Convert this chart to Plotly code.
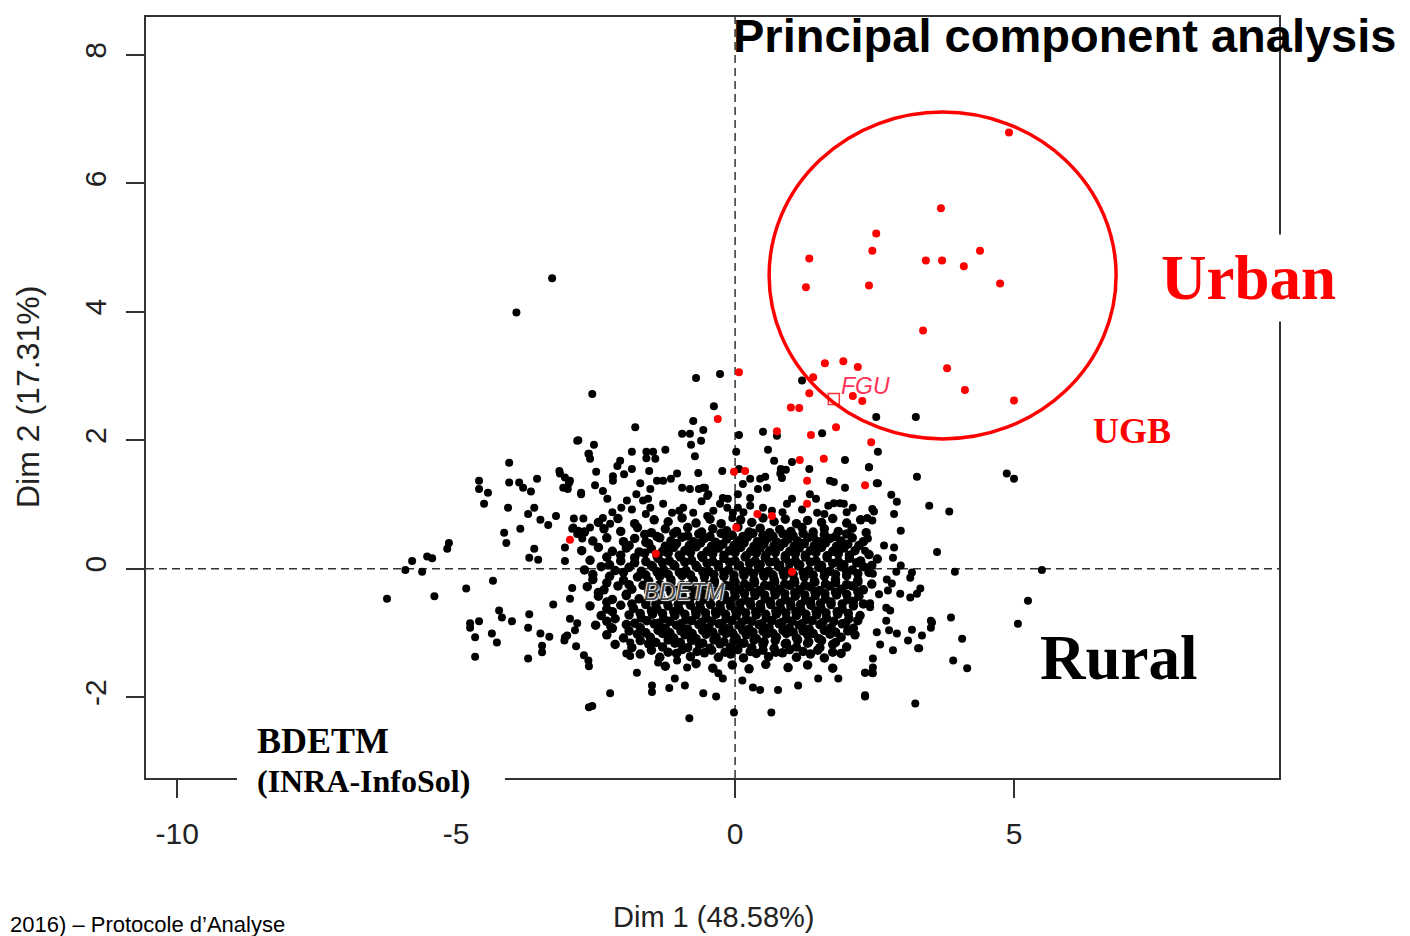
import plotly.graph_objects as go

# Individuals on the first factorial plane (Dim 1, Dim 2).
# Black = rural profiles, red = urban profiles (UGB).
rural_sparse = [
    # upper part / outliers
    (-3.28, 4.52), (-3.92, 3.99), (-0.70, 2.97), (-0.27, 3.03), (1.20, 2.93), (-2.56, 2.72),
    (2.53, 2.36), (3.24, 2.36), (-0.38, 2.53), (-0.75, 2.30), (-0.57, 2.16), (-1.79, 2.20),
    (-2.81, 2.00), (-2.53, 1.93), (-0.95, 2.10), (-0.81, 2.10), (-0.61, 1.99), (-0.79, 1.93),
    (-0.72, 1.75), (0.02, 1.82), (0.07, 2.08), (0.50, 2.13), (0.75, 2.07), (1.56, 2.11),
    (0.59, 1.85), (0.70, 1.68), (1.02, 1.66), (0.82, 1.55), (0.91, 1.54), (1.33, 1.55),
    (1.97, 1.69), (2.40, 1.58), (2.56, 1.82), (3.26, 1.43), (4.87, 1.48), (5.00, 1.40),
    (-1.85, 1.82), (-1.59, 1.82), (-1.47, 1.82), (-1.59, 1.72), (-1.43, 1.71), (-1.25, 1.85),
    (-2.62, 1.79), (-2.60, 1.71), (-4.05, 1.65), (-0.23, 1.52), (-0.66, 1.49), (-1.54, 1.52),
    (-1.85, 1.55), (-2.49, 1.51), (-2.06, 1.68), (-2.11, 1.60), (-2.19, 1.44), (-2.19, 1.37),
    (-1.99, 1.47), (-3.15, 1.52), (-2.96, 1.37), (-3.08, 1.26), (-3.05, 1.42), (-2.76, 1.16),
    (-2.51, 1.30), (-1.70, 1.33), (-1.52, 1.24), (-1.56, 1.09), (-1.40, 1.37), (-1.29, 1.37),
    (-1.15, 1.40), (-1.04, 1.48), (-0.95, 1.26), (-0.81, 1.24), (-0.65, 1.24), (-0.54, 1.26),
    (-0.48, 1.16), (0.14, 1.32), (0.05, 1.16), (0.07, 1.55), (0.27, 1.40), (0.45, 1.40),
    (0.54, 1.43), (0.41, 1.24), (0.57, 1.26), (0.84, 1.41), (0.81, 1.48), (1.70, 1.37),
    (1.77, 1.35), (1.97, 1.26), (2.54, 1.33), (2.80, 1.15), (2.90, 1.04), (3.48, 0.98),
    (3.84, 0.89), (-0.57, 1.26), (-0.50, 1.13), (-0.22, 1.10), (-0.13, 1.09), (0.05, 0.95),
    (-0.04, 0.87), (0.27, 1.10), (0.27, 0.98), (0.66, 0.90), (1.02, 1.09), (0.93, 1.01),
    (1.34, 1.16), (1.45, 1.09), (1.47, 0.87), (1.67, 0.98), (1.77, 1.02), (1.88, 1.02),
    (1.95, 1.01), (2.11, 0.95), (2.46, 0.93), (2.85, 0.85), (2.37, 0.79), (-2.37, 1.21),
    (-2.29, 1.09), (-1.94, 1.06), (-2.04, 0.95), (-1.77, 1.16), (-1.65, 1.06), (-1.52, 0.95),
    (-1.29, 1.01), (-1.13, 0.87), (-0.93, 0.95), (-0.75, 0.87), (-0.50, 0.82), (-0.39, 0.90),
    (-0.27, 1.01), (-0.14, 0.95), (-0.05, 0.79), (-2.72, 0.78), (-2.60, 0.64), (-2.90, 0.64),
    (-2.83, 0.54), (-2.37, 0.79), (-2.24, 0.70),
    (-2.20, 0.88), (-1.85, 0.92), (-1.60, 0.85), (-1.00, 0.90), (-0.60, 1.05), (0.15, 0.88),
    (0.50, 0.95), (0.85, 0.88), (1.20, 0.92), (1.60, 0.85), (2.00, 0.88),
    # left tail
    (-4.05, 1.34), (-4.59, 1.37), (-4.59, 1.24), (-4.43, 1.18), (-4.50, 1.01), (-3.87, 1.34),
    (-3.80, 1.26), (-3.66, 1.20), (-3.55, 1.40), (-4.07, 0.95), (-3.71, 0.85), (-3.60, 0.95),
    (-3.49, 0.76), (-3.35, 0.68), (-3.21, 0.82), (-3.85, 0.62), (-4.14, 0.56), (-4.10, 0.40),
    (-5.13, 0.40), (-5.16, 0.31), (-5.52, 0.19), (-5.43, 0.16), (-5.79, 0.12), (-5.91, -0.02),
    (-5.61, -0.05), (-6.24, -0.47), (-5.39, -0.43), (-4.82, -0.31), (-4.34, -0.19), (-3.60, 0.31),
    (-3.69, 0.17), (-3.53, 0.14), (-3.26, -0.56), (-4.23, -0.65), (-4.18, -0.76), (-4.00, -0.82),
    (-4.75, -0.85), (-4.75, -0.92), (-4.59, -0.82), (-4.66, -1.07), (-4.66, -1.37), (-4.36, -1.01),
    (-4.27, -1.15), (-3.69, -0.71), (-3.71, -0.92), (-3.71, -1.40), (-3.49, -1.01), (-3.33, -1.06),
    (-3.46, -1.20), (-3.46, -1.30), (-3.06, -1.12), (-3.01, -1.04), (-2.85, -1.21), (-2.96, -0.78),
    (-2.96, -0.47), (-2.92, -0.30), (-3.05, 0.12), (-3.05, 0.33), (-2.89, 0.78), (-2.92, 0.62),
    (-2.81, 0.59), (-2.74, 0.47), (-3.14, 1.48), (-2.98, 1.33), (-3.00, 1.24), (-2.76, 1.18),
    (-2.63, 1.79), (-2.83, 1.99), (-2.63, -1.43), (-2.62, -2.16),
    # right tail
    (2.40, 1.58), (2.56, 1.33), (2.49, 0.89), (2.46, 0.75), (2.97, 0.59), (3.62, 0.26),
    (2.67, 0.36), (2.85, 0.33), (2.83, 0.17), (2.38, 0.47), (2.33, 0.28), (2.97, 0.05),
    (2.89, -0.05), (3.17, -0.06), (3.14, -0.14), (3.94, -0.05), (5.50, -0.02), (5.25, -0.50),
    (2.72, -0.17), (2.81, -0.23), (2.47, -0.08), (3.32, -0.31), (3.26, -0.39), (2.96, -0.39),
    (3.14, -0.45), (2.74, -0.34), (2.58, -0.40), (2.42, -0.54), (2.42, -0.60), (2.71, -0.61),
    (2.78, -0.65), (2.71, -0.81), (3.87, -0.76), (3.51, -0.81), (3.51, -0.92), (3.17, -0.95),
    (2.76, -0.96), (2.90, -1.01), (3.35, -1.04), (3.10, -1.12), (2.60, -1.18), (2.54, -0.99),
    (4.07, -1.09), (3.30, -1.24), (2.83, -1.27), (3.91, -1.43), (4.16, -1.55), (2.47, -1.40),
    (2.47, -1.54), (2.33, -1.62), (2.47, -1.63), (2.33, -1.99), (3.23, -2.10), (5.07, -0.86),
    # lower fringe
    (-2.56, -2.14), (-2.24, -1.94), (-0.82, -2.33), (-0.02, -2.24), (0.65, -2.24), (2.33, -1.97),
    (-0.57, -1.94), (-0.34, -1.99), (-1.49, -1.82), (-1.49, -1.92), (-1.18, -1.86), (-1.08, -1.71),
    (-0.90, -1.82), (-1.76, -1.62), (-1.38, -1.46), (-2.62, -1.52), (-2.71, -1.35), (-1.95, -1.32),
    (-1.88, -1.36), (-0.30, -1.63), (-0.22, -1.71), (0.13, -1.74), (0.32, -1.85), (0.45, -1.89),
    (0.77, -1.89), (1.13, -1.82), (1.49, -1.71), (1.85, -1.71), (2.33, -1.62), (2.45, -1.62),
    (3.28, -1.24), (3.53, -0.84), (-2.83, -0.85), (-2.87, -0.96), (-3.05, -1.07), (-2.24, -0.90),
    (-1.88, -1.15), (-0.86, -1.54), (-1.04, -1.43),
]

# dense centre of the cloud
rural_core = [
    (-2.45, 0.72), (-2.10, 0.78), (-1.80, 0.70), (-1.45, 0.76), (-1.20, 0.73), (-0.95, 0.79),
    (-0.70, 0.71), (-0.45, 0.77), (-0.25, 0.70), (0.10, 0.76), (0.30, 0.72), (0.50, 0.79),
    (0.70, 0.73), (0.90, 0.77), (1.10, 0.70), (1.30, 0.75), (1.55, 0.72), (1.75, 0.78),
    (2.00, 0.71), (2.25, 0.76),
    (-2.70, 0.57), (-2.35, 0.62), (-2.05, 0.58), (-1.75, 0.64), (-1.50, 0.56), (-1.25, 0.62),
    (-1.05, 0.58), (-0.85, 0.64), (-0.60, 0.57), (-0.40, 0.62), (-0.15, 0.59), (0.05, 0.65),
    (0.25, 0.57), (0.45, 0.63), (0.62, 0.56), (0.80, 0.61), (1.00, 0.58), (1.20, 0.64),
    (1.40, 0.57), (1.60, 0.62), (1.85, 0.58), (2.10, 0.63), (2.35, 0.56),
    (-1.62, 0.53), (-1.40, 0.50), (-1.10, 0.55), (-0.85, 0.51), (-0.65, 0.54), (-0.45, 0.50),
    (-0.25, 0.55), (-0.05, 0.52), (0.14, 0.50), (0.32, 0.55), (0.50, 0.52), (0.68, 0.50),
    (0.86, 0.54), (1.04, 0.51), (1.22, 0.55), (1.40, 0.50), (1.60, 0.53), (1.80, 0.50),
    (2.00, 0.54),
    (-2.55, 0.43), (-2.30, 0.48), (-2.00, 0.42), (-1.80, 0.47), (-1.60, 0.41), (-1.35, 0.48),
    (-1.15, 0.43), (-0.95, 0.49), (-0.75, 0.42), (-0.55, 0.47), (-0.35, 0.41), (-0.15, 0.46),
    (0.05, 0.43), (0.22, 0.49), (0.40, 0.42), (0.58, 0.47), (0.75, 0.41), (0.95, 0.46),
    (1.12, 0.43), (1.30, 0.48), (1.50, 0.42), (1.70, 0.47), (1.90, 0.43), (2.10, 0.48),
    (2.30, 0.42),
    (-1.90, 0.36), (-1.55, 0.39), (-1.25, 0.35), (-1.05, 0.39), (-0.82, 0.36), (-0.62, 0.40),
    (-0.42, 0.35), (-0.22, 0.38), (-0.02, 0.36), (0.16, 0.40), (0.34, 0.35), (0.52, 0.39),
    (0.70, 0.36), (0.88, 0.40), (1.06, 0.35), (1.24, 0.39), (1.42, 0.36), (1.62, 0.40),
    (1.82, 0.35), (2.02, 0.38), (2.22, 0.36),
    (-2.75, 0.28), (-2.45, 0.33), (-2.20, 0.27), (-1.95, 0.32), (-1.72, 0.26), (-1.50, 0.31),
    (-1.30, 0.27), (-1.10, 0.33), (-0.90, 0.28), (-0.70, 0.34), (-0.50, 0.27), (-0.30, 0.32),
    (-0.10, 0.28), (0.10, 0.33), (0.28, 0.27), (0.45, 0.32), (0.62, 0.28), (0.80, 0.34),
    (0.98, 0.27), (1.15, 0.32), (1.35, 0.28), (1.55, 0.33), (1.75, 0.27), (1.95, 0.32),
    (2.15, 0.28),
    (-2.05, 0.21), (-1.62, 0.24), (-1.40, 0.20), (-1.20, 0.24), (-1.00, 0.21), (-0.80, 0.25),
    (-0.60, 0.20), (-0.40, 0.23), (-0.20, 0.21), (0.00, 0.25), (0.20, 0.20), (0.38, 0.24),
    (0.55, 0.21), (0.72, 0.25), (0.90, 0.20), (1.08, 0.23), (1.26, 0.21), (1.45, 0.25),
    (1.65, 0.20), (1.85, 0.23), (2.05, 0.21), (2.40, 0.22),
    (-2.60, 0.13), (-2.30, 0.18), (-2.05, 0.12), (-1.80, 0.17), (-1.60, 0.11), (-1.38, 0.16),
    (-1.18, 0.12), (-0.98, 0.18), (-0.78, 0.13), (-0.58, 0.17), (-0.40, 0.11), (-0.20, 0.16),
    (0.00, 0.12), (0.18, 0.18), (0.36, 0.12), (0.54, 0.17), (0.72, 0.11), (0.90, 0.16),
    (1.08, 0.12), (1.26, 0.18), (1.45, 0.12), (1.65, 0.17), (1.85, 0.11), (2.05, 0.16),
    (2.25, 0.12), (2.55, 0.15),
    (-2.25, 0.06), (-1.80, 0.09), (-1.50, 0.05), (-1.30, 0.09), (-1.10, 0.06), (-0.90, 0.10),
    (-0.70, 0.05), (-0.50, 0.08), (-0.30, 0.06), (-0.10, 0.10), (0.08, 0.05), (0.26, 0.08),
    (0.45, 0.06), (0.62, 0.10), (0.80, 0.05), (0.98, 0.08), (1.16, 0.06), (1.35, 0.10),
    (1.55, 0.05), (1.75, 0.08), (1.95, 0.06), (2.18, 0.09), (2.45, 0.05),
    (-2.70, -0.02), (-2.40, 0.03), (-2.15, -0.03), (-1.90, 0.02), (-1.68, -0.04), (-1.48, 0.03),
    (-1.28, -0.02), (-1.08, 0.04), (-0.88, -0.03), (-0.68, 0.02), (-0.48, -0.04), (-0.30, 0.03),
    (-0.12, -0.02), (0.06, 0.04), (0.24, -0.03), (0.42, 0.02), (0.60, -0.04), (0.78, 0.03),
    (0.96, -0.02), (1.14, 0.04), (1.32, -0.03), (1.50, 0.02), (1.70, -0.04), (1.90, 0.03),
    (2.10, -0.02), (2.30, 0.03),
    (-2.55, -0.09), (-2.00, -0.06), (-1.60, -0.10), (-1.40, -0.05), (-1.20, -0.09), (-1.00, -0.06),
    (-0.80, -0.10), (-0.58, -0.05), (-0.38, -0.09), (-0.20, -0.06), (-0.02, -0.10), (0.15, -0.05),
    (0.33, -0.08), (0.50, -0.06), (0.68, -0.10), (0.86, -0.05), (1.04, -0.09), (1.22, -0.06),
    (1.40, -0.10), (1.60, -0.05), (1.80, -0.09), (2.00, -0.05), (2.20, -0.08), (2.40, -0.06),
    (-2.55, -0.17), (-2.25, -0.12), (-2.00, -0.18), (-1.75, -0.13), (-1.55, -0.19), (-1.35, -0.12),
    (-1.15, -0.17), (-0.95, -0.11), (-0.75, -0.18), (-0.55, -0.13), (-0.37, -0.19), (-0.20, -0.12),
    (-0.02, -0.17), (0.16, -0.11), (0.34, -0.18), (0.52, -0.12), (0.70, -0.17), (0.88, -0.11),
    (1.06, -0.18), (1.24, -0.13), (1.42, -0.19), (1.60, -0.12), (1.80, -0.17), (2.00, -0.11),
    (2.20, -0.18),
    (-2.30, -0.22), (-1.90, -0.25), (-1.55, -0.21), (-1.35, -0.25), (-1.15, -0.22), (-0.95, -0.26),
    (-0.75, -0.21), (-0.55, -0.24), (-0.37, -0.22), (-0.18, -0.26), (0.00, -0.21), (0.17, -0.24),
    (0.35, -0.22), (0.53, -0.26), (0.71, -0.21), (0.89, -0.24), (1.07, -0.22), (1.25, -0.26),
    (1.43, -0.21), (1.62, -0.24), (1.80, -0.22), (2.00, -0.25), (2.20, -0.21), (2.45, -0.24),
    (-2.65, -0.28), (-2.35, -0.33), (-2.10, -0.27), (-1.85, -0.32), (-1.65, -0.26), (-1.45, -0.33),
    (-1.25, -0.28), (-1.05, -0.34), (-0.85, -0.27), (-0.65, -0.32), (-0.47, -0.26), (-0.28, -0.33),
    (-0.10, -0.27), (0.08, -0.32), (0.26, -0.28), (0.44, -0.34), (0.62, -0.27), (0.80, -0.32),
    (0.98, -0.26), (1.16, -0.33), (1.34, -0.28), (1.52, -0.34), (1.70, -0.27), (1.90, -0.32),
    (2.10, -0.27), (2.30, -0.33),
    (-2.45, -0.37), (-1.95, -0.40), (-1.55, -0.36), (-1.35, -0.40), (-1.15, -0.37), (-0.95, -0.41),
    (-0.75, -0.36), (-0.56, -0.39), (-0.38, -0.37), (-0.19, -0.41), (-0.01, -0.36), (0.17, -0.39),
    (0.35, -0.37), (0.53, -0.41), (0.71, -0.36), (0.89, -0.39), (1.07, -0.37), (1.25, -0.41),
    (1.43, -0.36), (1.61, -0.39), (1.80, -0.37), (2.00, -0.40), (2.20, -0.36),
    (-2.45, -0.43), (-2.20, -0.48), (-1.95, -0.42), (-1.72, -0.47), (-1.52, -0.41), (-1.32, -0.48),
    (-1.12, -0.43), (-0.92, -0.49), (-0.73, -0.42), (-0.55, -0.47), (-0.37, -0.41), (-0.18, -0.48),
    (0.00, -0.43), (0.18, -0.49), (0.36, -0.42), (0.54, -0.47), (0.72, -0.41), (0.90, -0.48),
    (1.08, -0.43), (1.26, -0.49), (1.44, -0.42), (1.62, -0.47), (1.82, -0.41), (2.02, -0.48),
    (2.22, -0.43),
    (-2.30, -0.52), (-1.85, -0.55), (-1.60, -0.51), (-1.42, -0.55), (-1.22, -0.52), (-1.02, -0.56),
    (-0.82, -0.51), (-0.63, -0.54), (-0.45, -0.52), (-0.27, -0.56), (-0.09, -0.51), (0.09, -0.54),
    (0.27, -0.52), (0.45, -0.56), (0.63, -0.51), (0.81, -0.54), (0.99, -0.52), (1.17, -0.56),
    (1.35, -0.51), (1.53, -0.54), (1.72, -0.52), (1.92, -0.55), (2.12, -0.51), (2.30, -0.55),
    (-2.60, -0.58), (-2.30, -0.63), (-2.05, -0.57), (-1.82, -0.62), (-1.60, -0.56), (-1.40, -0.63),
    (-1.20, -0.58), (-1.00, -0.64), (-0.80, -0.57), (-0.62, -0.62), (-0.44, -0.56), (-0.26, -0.63),
    (-0.08, -0.58), (0.10, -0.64), (0.28, -0.57), (0.46, -0.62), (0.64, -0.56), (0.82, -0.63),
    (1.00, -0.58), (1.18, -0.64), (1.36, -0.57), (1.54, -0.62), (1.72, -0.56), (1.92, -0.63),
    (2.12, -0.58),
    (-2.20, -0.67), (-1.70, -0.70), (-1.50, -0.66), (-1.30, -0.70), (-1.10, -0.67), (-0.90, -0.71),
    (-0.71, -0.66), (-0.53, -0.69), (-0.35, -0.67), (-0.17, -0.71), (0.01, -0.66), (0.19, -0.69),
    (0.37, -0.67), (0.55, -0.71), (0.73, -0.66), (0.91, -0.69), (1.09, -0.67), (1.27, -0.71),
    (1.45, -0.66), (1.63, -0.69), (1.83, -0.67), (2.03, -0.70),
    (-2.40, -0.73), (-2.15, -0.78), (-1.90, -0.72), (-1.68, -0.77), (-1.48, -0.71), (-1.28, -0.78),
    (-1.08, -0.73), (-0.88, -0.79), (-0.70, -0.72), (-0.52, -0.77), (-0.34, -0.71), (-0.16, -0.78),
    (0.02, -0.73), (0.20, -0.79), (0.38, -0.72), (0.56, -0.77), (0.74, -0.71), (0.92, -0.78),
    (1.10, -0.73), (1.28, -0.79), (1.46, -0.72), (1.64, -0.77), (1.84, -0.71), (2.04, -0.78),
    (2.24, -0.73),
    (-2.30, -0.82), (-1.80, -0.85), (-1.58, -0.81), (-1.37, -0.85), (-1.17, -0.82), (-0.97, -0.86),
    (-0.78, -0.81), (-0.60, -0.84), (-0.42, -0.82), (-0.24, -0.86), (-0.06, -0.81), (0.12, -0.84),
    (0.30, -0.82), (0.48, -0.86), (0.66, -0.81), (0.84, -0.84), (1.02, -0.82), (1.20, -0.86),
    (1.38, -0.81), (1.57, -0.84), (1.77, -0.82), (1.98, -0.85), (2.20, -0.81),
    (-2.50, -0.88), (-2.20, -0.93), (-1.95, -0.87), (-1.70, -0.92), (-1.45, -0.86), (-1.25, -0.93),
    (-1.05, -0.88), (-0.85, -0.94), (-0.65, -0.87), (-0.47, -0.92), (-0.29, -0.86), (-0.11, -0.93),
    (0.07, -0.88), (0.25, -0.94), (0.43, -0.87), (0.61, -0.92), (0.79, -0.86), (0.97, -0.93),
    (1.15, -0.88), (1.33, -0.94), (1.52, -0.87), (1.72, -0.92), (1.92, -0.86), (2.12, -0.93),
    (-1.90, -0.97), (-1.60, -1.00), (-1.38, -0.96), (-1.17, -1.00), (-0.97, -0.97), (-0.77, -1.01),
    (-0.58, -0.96), (-0.40, -0.99), (-0.22, -0.97), (-0.04, -1.01), (0.14, -0.96), (0.32, -0.99),
    (0.50, -0.97), (0.68, -1.01), (0.86, -0.96), (1.04, -0.99), (1.22, -0.97), (1.40, -1.01),
    (1.60, -0.96), (1.80, -0.99), (2.02, -0.97),
    (-2.30, -1.03), (-2.00, -1.08), (-1.75, -1.02), (-1.52, -1.07), (-1.30, -1.01), (-1.10, -1.08),
    (-0.90, -1.03), (-0.70, -1.09), (-0.52, -1.02), (-0.34, -1.07), (-0.16, -1.01), (0.02, -1.08),
    (0.20, -1.03), (0.38, -1.09), (0.56, -1.02), (0.74, -1.07), (0.92, -1.01), (1.10, -1.08),
    (1.30, -1.03), (1.50, -1.09), (1.70, -1.02), (1.90, -1.07), (2.15, -1.03),
    (-1.70, -1.12), (-1.42, -1.15), (-1.20, -1.11), (-0.98, -1.15), (-0.78, -1.12), (-0.58, -1.16),
    (-0.38, -1.11), (-0.20, -1.14), (-0.02, -1.12), (0.16, -1.16), (0.34, -1.11), (0.52, -1.14),
    (0.72, -1.12), (0.92, -1.16), (1.12, -1.11), (1.32, -1.14), (1.55, -1.12), (1.80, -1.15),
    (-2.15, -1.18), (-1.85, -1.23), (-1.55, -1.17), (-1.30, -1.22), (-1.08, -1.16), (-0.85, -1.23),
    (-0.64, -1.18), (-0.45, -1.24), (-0.27, -1.17), (-0.08, -1.22), (0.10, -1.16), (0.30, -1.23),
    (0.50, -1.18), (0.70, -1.24), (0.90, -1.17), (1.10, -1.22), (1.30, -1.16), (1.52, -1.23),
    (1.75, -1.18), (2.00, -1.22),
    (-1.50, -1.27), (-1.20, -1.30), (-0.95, -1.26), (-0.68, -1.29), (-0.42, -1.27), (-0.18, -1.30),
    (0.05, -1.26), (0.27, -1.29), (0.50, -1.27), (0.73, -1.30), (0.98, -1.26), (1.22, -1.29),
    (1.48, -1.27), (1.75, -1.30),
    (-1.70, -1.33), (-1.35, -1.38), (-1.05, -1.32), (-0.80, -1.37), (-0.55, -1.31), (-0.30, -1.38),
    (-0.08, -1.33), (0.15, -1.39), (0.38, -1.32), (0.60, -1.37), (0.85, -1.31), (1.10, -1.38),
    (1.35, -1.33), (1.60, -1.39), (1.90, -1.32),
    (-1.25, -1.52), (-0.70, -1.48), (-0.40, -1.55), (-0.05, -1.50), (0.25, -1.56), (0.55, -1.49),
    (0.95, -1.54), (1.30, -1.50), (1.75, -1.55),
]

urban_x = [4.91, 3.69, 2.53, 2.46, 4.39, 1.33, 3.42, 3.71, 4.10, 1.27, 2.40, 4.75, 3.37, 3.80,
           4.12, 5.00, 1.61, 1.94, 2.20, 1.40, 1.33, 0.07, 2.11, 2.28, 1.00, 1.15, -0.31, 1.81,
           0.75, 1.36, 2.44, 1.16, 1.59, -0.02, 0.18, 1.29, 2.33, 1.29, 0.02, -2.96, -1.42, 1.02,
           0.40, 0.66]
urban_y = [6.79, 5.61, 5.22, 4.95, 4.95, 4.83, 4.80, 4.80, 4.71, 4.38, 4.41, 4.44, 3.71, 3.12,
           2.78, 2.62, 3.20, 3.23, 3.14, 2.98, 2.73, 3.06, 2.69, 2.61, 2.51, 2.50, 2.33, 2.20,
           2.14, 2.08, 1.97, 1.69, 1.71, 1.51, 1.52, 1.37, 1.30, 1.01, 0.64, 0.45, 0.23, -0.05,
           0.85, 0.82]

# supplementary categories (square marker + italic label)
cat_names = ["FGU", "BDETM"]
cat_x = [1.77, -0.90]
cat_y = [2.64, -0.37]

x_ticks = [-10, -5, 0, 5]
x_ticktext = ["-10", "-5", "0", "5"]
y_ticks = [-2, 0, 2, 4, 6, 8]
y_ticktext = ["-2", "0", "2", "4", "6", "8"]

# page body adds an 8px margin, so the figure is drawn 8px smaller and
# every pixel position below is given in screen pixels then shifted
OFF = 8
W, H = 1410 - OFF, 936 - OFF
L, R, T, B = 146 - OFF, 1279 - OFF, 15 - OFF, 778 - OFF


def paper(xp, yp):
    xp, yp = xp - OFF, yp - OFF
    return (xp - L) / (R - L), (B - yp) / (B - T)


SANS = "Liberation Sans, Arial, sans-serif"
SERIF = "Liberation Serif, Times New Roman, serif"

fig = go.Figure()

fig.add_trace(go.Scatter(x=[p[0] for p in rural_sparse], y=[p[1] for p in rural_sparse],
                         mode="markers", name="Rural",
                         marker=dict(color="black", size=8, line=dict(width=0))))
fig.add_trace(go.Scatter(x=[p[0] for p in rural_core], y=[p[1] for p in rural_core],
                         mode="markers", name="Rural",
                         marker=dict(color="black", size=9.5, line=dict(width=0))))
fig.add_trace(go.Scatter(x=urban_x, y=urban_y, mode="markers", name="Urban",
                         marker=dict(color="#ff0000", size=8, line=dict(width=0))))
fig.add_trace(go.Scatter(x=cat_x[:1], y=cat_y[:1], mode="markers",
                         marker=dict(symbol="square-open", color="#ff3030", size=11,
                                     line=dict(width=1.5))))

# axes of the factorial plane
fig.add_vline(x=0, line_dash="8px,5px", line_color="#333", line_width=1.5, layer="below")
fig.add_hline(y=0, line_dash="8px,5px", line_color="#333", line_width=1.5, layer="below")

# hand-drawn ellipse around the urban group
fig.add_shape(type="circle", xref="x", yref="y", x0=0.61, x1=6.83, y0=2.02, y1=7.11,
              line=dict(color="#ff0000", width=3.5), layer="above")

# white patch hiding the bottom frame (and the -5 tick) behind the source caption
p0 = paper(237, 770)
p1 = paper(505, 802)
fig.add_shape(type="rect", xref="paper", yref="paper", x0=p0[0], x1=p1[0], y0=p1[1], y1=p0[1],
              fillcolor="white", line=dict(width=0), layer="above")

ann = []
tx, ty = paper(731, 34)
ann.append(dict(text="<b>Principal component analysis</b>", x=tx, y=ty, xanchor="left",
                yanchor="middle", font=dict(family=SANS, size=47, color="black")))
ux, uy = paper(1248, 277)
ann.append(dict(text="<b>Urban</b>", x=ux, y=uy, xanchor="center", yanchor="middle",
                bgcolor="white", borderpad=8,
                font=dict(family=SERIF, size=63, color="#ff0000")))
gx, gy = paper(1132, 430)
ann.append(dict(text="<b>UGB</b>", x=gx, y=gy, xanchor="center", yanchor="middle",
                font=dict(family=SERIF, size=36, color="#ff0000")))
rx, ry = paper(1119, 658)
ann.append(dict(text="<b>Rural</b>", x=rx, y=ry, xanchor="center", yanchor="middle",
                bgcolor="white", borderpad=0,
                font=dict(family=SERIF, size=63, color="black")))
bx, by = paper(255, 741)
ann.append(dict(text="<b>BDETM</b>", x=bx, y=by, xanchor="left", yanchor="middle",
                font=dict(family=SERIF, size=36, color="black")))
ix, iy = paper(255, 781)
ann.append(dict(text="<b>(INRA-InfoSol)</b>", x=ix, y=iy, xanchor="left", yanchor="middle",
                font=dict(family=SERIF, size=32, color="black")))
ax1, ay1 = paper(713, 917)
ann.append(dict(text="Dim 1 (48.58%)", x=ax1, y=ay1, xanchor="center", yanchor="middle",
                font=dict(family=SANS, size=29, color="#222")))
ax2, ay2 = paper(28, 396)
ann.append(dict(text="Dim 2 (17.31%)", x=ax2, y=ay2, xanchor="center", yanchor="middle",
                textangle=-90, font=dict(family=SANS, size=32, color="#222")))
sx, sy = paper(8, 925)
ann.append(dict(text="2016) – Protocole d’Analyse", x=sx, y=sy, xanchor="left", yanchor="middle",
                font=dict(family=SANS, size=22, color="black")))
for a in ann:
    a.update(xref="paper", yref="paper", showarrow=False)

# category labels in data coordinates
ann.append(dict(text="<i>FGU</i>", x=2.33, y=2.84, xref="x", yref="y", showarrow=False,
                font=dict(family=SANS, size=23, color="#ff3355")))
ann.append(dict(text="<i>BDETM</i>", x=cat_x[1], y=cat_y[1], xref="x", yref="y", showarrow=False,
                font=dict(family=SANS, size=23, color="#444",
                          shadow="1px 1px 1px white, -1px -1px 1px white")))

fig.update_layout(
    width=W, height=H,
    margin=dict(l=L, r=W - R, t=T, b=H - B),
    plot_bgcolor="white", paper_bgcolor="white",
    showlegend=False,
    annotations=ann,
)
axis_style = dict(showgrid=False, zeroline=False, showline=True, mirror=True,
                  linecolor="#333", linewidth=1.5, ticks="outside", ticklen=18,
                  tickwidth=1.5, tickcolor="#333",
                  tickfont=dict(family=SANS, size=30, color="#222"))
fig.update_xaxes(range=[-10.56, 9.75], tickvals=x_ticks, ticktext=x_ticktext,
                 ticklabelstandoff=10, **axis_style)
fig.update_yaxes(range=[-3.26, 8.59], tickvals=y_ticks, ticktext=y_ticktext, tickangle=-90,
                 ticklabelstandoff=8, **axis_style)

fig.write_html("out.html")
